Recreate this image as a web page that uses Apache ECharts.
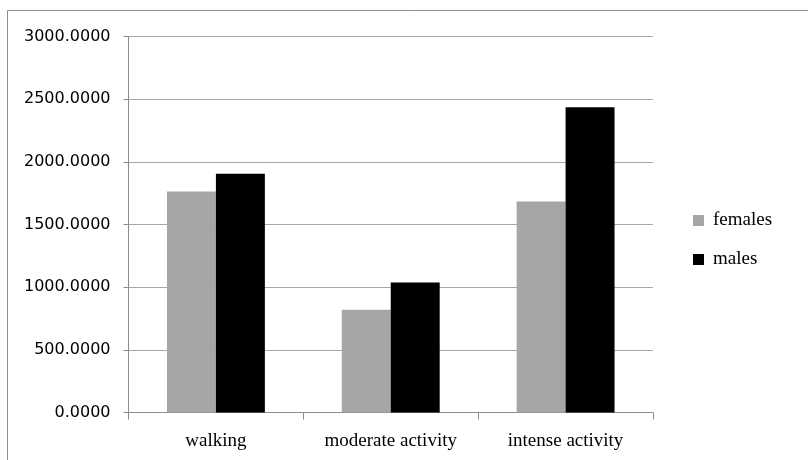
<!DOCTYPE html>
<html>
<head>
<meta charset="utf-8">
<script src="https://cdn.jsdelivr.net/npm/echarts@6/dist/echarts.min.js"></script>
<style>html,body{margin:0;padding:0;background:#fff;}#c{width:808px;height:460px;}</style>
</head>
<body>
<div id="c"></div>
<script>
const categories = ['walking', 'moderate activity', 'intense activity'];
const females = [1763, 819, 1683];
const males = [1904, 1037, 2436];
const seriesNames = ['females', 'males'];

const chart = echarts.init(document.getElementById('c'), null, {renderer: 'canvas'});
chart.setOption({
  animation: false,
  backgroundColor: '#fff',
  graphic: [{
    type: 'rect', silent: true,
    shape: {x: 7.5, y: 10.5, width: 820, height: 470},
    style: {fill: 'none', stroke: '#8c8c8c', lineWidth: 1}
  }],
  grid: {left: 128.5, top: 36.5, width: 524.5, height: 376, containLabel: false},
  legend: {
    data: seriesNames,
    orient: 'vertical',
    left: 688, top: 206,
    itemWidth: 11, itemHeight: 11,
    itemGap: 20,
    icon: 'rect',
    textStyle: {fontFamily: 'Liberation Serif', fontSize: 19, color: '#000', padding: [0,0,0,4]}
  },
  xAxis: {
    type: 'category',
    data: categories,
    axisLine: {lineStyle: {color: '#8c8c8c', width: 1}},
    axisTick: {show: true, length: 7, lineStyle: {color: '#8c8c8c'}},
    axisLabel: {fontFamily: 'Liberation Serif', fontSize: 19, color: '#000', margin: 19}
  },
  yAxis: {
    type: 'value',
    min: 0, max: 3000, interval: 500,
    axisLine: {show: true, lineStyle: {color: '#8c8c8c', width: 1}},
    axisTick: {show: true, length: 5, lineStyle: {color: '#8c8c8c'}},
    splitLine: {lineStyle: {color: '#a6a6a6', width: 1}},
    axisLabel: {fontFamily: 'DejaVu Sans', fontSize: 16, color: '#000', margin: 18,
      formatter: v => v.toFixed(4)}
  },
  series: [
    {name: 'females', type: 'bar', data: females, barGap: '0%', barCategoryGap: '44%',
     itemStyle: {color: '#a6a6a6'}},
    {name: 'males', type: 'bar', data: males, barGap: '0%', barCategoryGap: '44%',
     itemStyle: {color: '#000000'}}
  ]
});
</script>
</body>
</html>
